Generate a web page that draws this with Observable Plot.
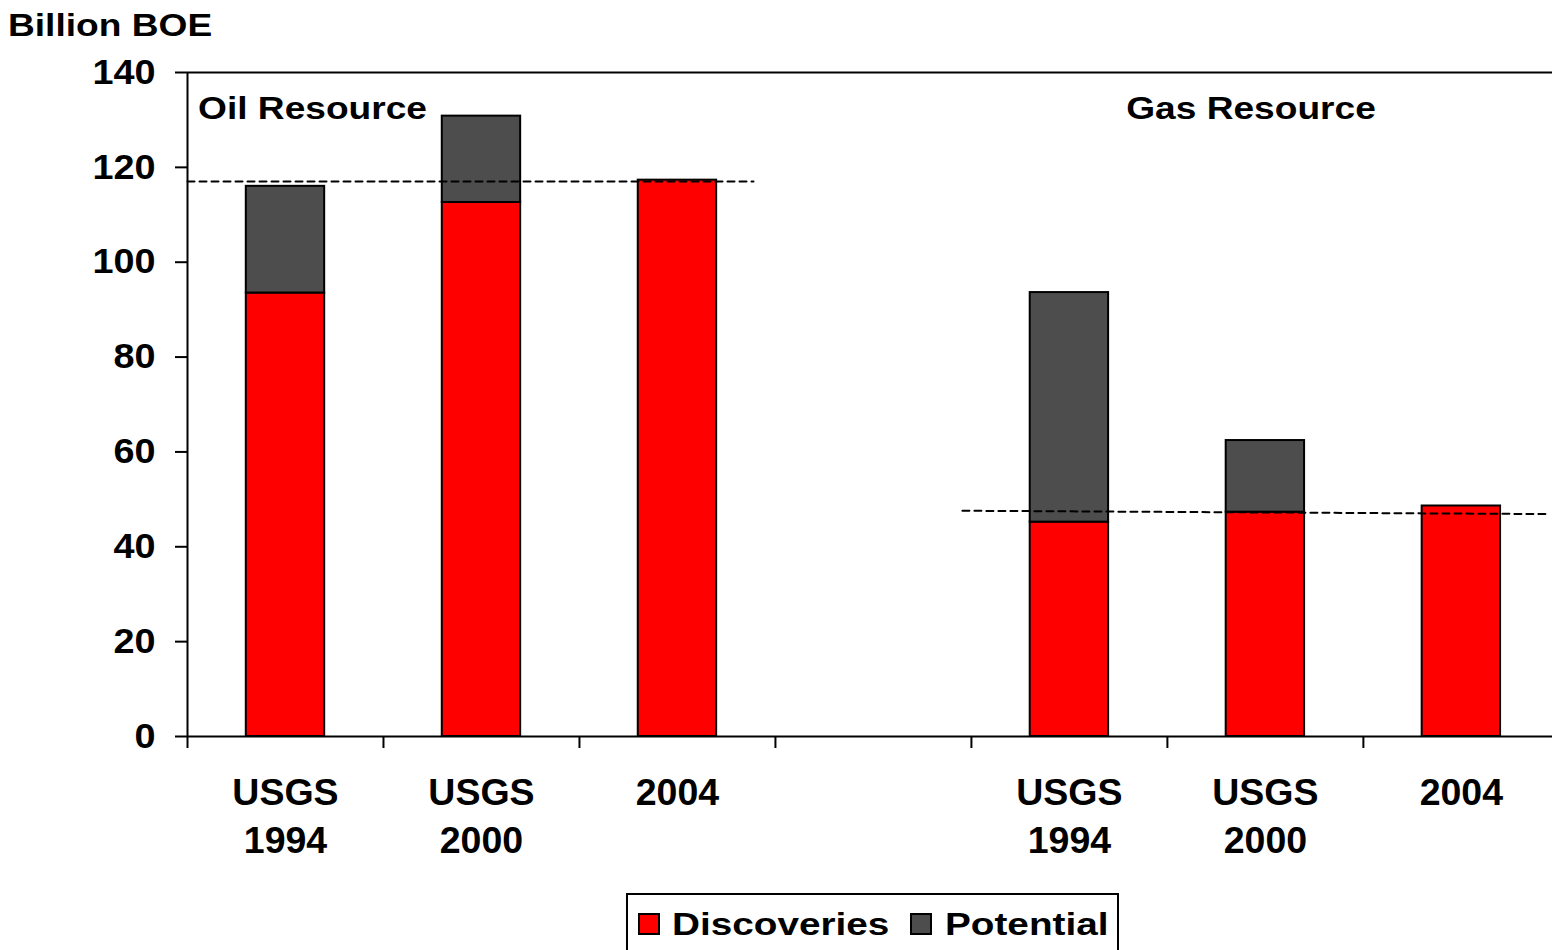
<!DOCTYPE html>
<html>
<head>
<meta charset="utf-8">
<script src="https://cdn.jsdelivr.net/npm/d3@7"></script>
<script src="https://cdn.jsdelivr.net/npm/@observablehq/plot@0.6"></script>
<style>
  html, body { margin: 0; padding: 0; background: #fff; overflow: hidden; }
  #wrap { position: relative; width: 1552px; height: 950px; font-family: "Liberation Sans", Arial, sans-serif; font-weight: bold; color: #000; }
  .lbl { position: absolute; font-size: 32px; line-height: 32px; white-space: nowrap; transform-origin: left center; }
  .sw { position: absolute; width: 18px; height: 18px; border: 2px solid #000; }
  #legendBox { position: absolute; left: 626px; top: 893px; width: 489px; height: 80px; border: 2px solid #000; }
  #chart { position: absolute; left: 0; top: 0; }
  #chart svg text { font-weight: bold; }
  #chart svg g[aria-label^="y-axis"] text { font-size: 35px; }
</style>
</head>
<body>
<div id="wrap">
  <div id="chart"></div>
  <div id="yTitle" class="lbl" style="left:8px;top:9px;transform:scaleX(1.16)"></div>
  <div id="legendBox"></div>
</div>
<script>
// ---- data ----
const yTitle = "Billion BOE";
const groups = ["Oil Resource", "Oil Resource", "Oil Resource", "Gas Resource", "Gas Resource", "Gas Resource"];
const estimates = ["USGS 1994", "USGS 2000", "2004", "USGS 1994", "USGS 2000", "2004"];
const slots = [0, 1, 2, 4, 5, 6]; // category slot index (slot 3 is the gap between groups)
const discoveries = [93.5, 112.6, 117.3, 45.2, 47.3, 48.6];
const potential = [22.5, 18.2, 0, 48.4, 15.1, 0];
const seriesNames = ["Discoveries", "Potential"];
const seriesColors = ["#ff0000", "#4d4d4d"];
const yTicks = [0, 20, 40, 60, 80, 100, 120, 140];
const xTickSlots = [0, 1, 2, 3, 4, 5, 6];
const groupLabels = ["Oil Resource", "Gas Resource"];
const groupLabelSlot = [0.054, 4.79];
// dashed reference lines (2004 discoveries level), endpoints in slot units
const refGroup = ["Oil", "Oil", "Gas", "Gas"];
const refSlot = [0, 2.888, 3.954, 6.93];
const refValue = [117.0, 117.0, 47.6, 46.9];

// ---- build tables ----
const rows = estimates.map((e, i) => ({ group: groups[i], estimate: e, slot: slots[i], disc: discoveries[i], pot: potential[i] }));
const segs = [];
rows.forEach(r => {
  segs.push({ series: seriesNames[0], x1: r.slot + 0.3, x2: r.slot + 0.7, y1: 0, y2: r.disc });
  if (r.pot > 0) segs.push({ series: seriesNames[1], x1: r.slot + 0.3, x2: r.slot + 0.7, y1: r.disc, y2: r.disc + r.pot });
});
const refRows = refGroup.map((g, i) => ({ g, x: refSlot[i], y: refValue[i] }));
const labelRows = groupLabels.map((t, i) => ({ t, x: groupLabelSlot[i] }));

const plot = Plot.plot({
  width: 1552,
  height: 880,
  marginLeft: 187,
  marginRight: 0,
  marginTop: 72,
  marginBottom: 144,
  style: { fontFamily: '"Liberation Sans", Arial, sans-serif', fontSize: "35px", fontWeight: "bold", color: "#000", background: "#fff", overflow: "visible" },
  x: { domain: [0, 6.965], ticks: xTickSlots, tickFormat: () => "", tickSize: 12, label: null },
  y: { domain: [0, 140], ticks: yTicks, tickSize: 12, tickPadding: 20, label: null },
  color: { domain: seriesNames, range: seriesColors },
  marks: [
    Plot.rectY(segs, { x1: "x1", x2: "x2", y1: "y1", y2: "y2", fill: "series", stroke: "#000", strokeWidth: 2 }),
    Plot.line(refRows, { x: "x", y: "y", z: "g", stroke: "#000", strokeWidth: 2, strokeDasharray: "7,5" }),
    Plot.ruleY([0, 140], { stroke: "#000", strokeWidth: 2 }),
    Plot.ruleX([0], { stroke: "#000", strokeWidth: 2 }),
    Plot.text(rows, { x: d => d.slot + 0.5, y: () => 0, text: d => d.estimate.replace(" ", "\n"), lineAnchor: "top", dy: 35, lineHeight: 1.267, fontSize: 37.5, fill: "#000" }),
    Plot.text(labelRows, { x: "x", y: () => 140, text: "t", textAnchor: "start", lineAnchor: "middle", dy: 36, fontSize: 32, fill: "#000" })
  ]
});
document.getElementById("chart").appendChild(plot);

// thicker axis ticks
d3.select(plot).selectAll('g[aria-label*="tick"] line, g[aria-label*="tick"] path, g.tick line').attr("stroke-width", 2).attr("stroke", "#000");

// horizontally widen text (reference glyphs are stretched), keeping each anchor fixed
const widen = size => size > 37 ? 1.0 : size > 34 ? 1.08 : 1.16;
d3.select(plot).selectAll("text").each(function () {
  if (!this.textContent.trim()) return;
  const cs = getComputedStyle(this);
  const s = widen(parseFloat(cs.fontSize));
  if (s === 1) return;
  const bb = this.getBBox();
  const anchor = cs.textAnchor;
  const ax = anchor === "end" ? bb.x + bb.width : anchor === "middle" ? bb.x + bb.width / 2 : bb.x;
  const t = this.getAttribute("transform") || "";
  this.setAttribute("transform", `${t} translate(${ax},0) scale(${s},1) translate(${-ax},0)`);
});

// title
document.getElementById("yTitle").textContent = yTitle;

// legend
const wrap = document.getElementById("wrap");
const swLeft = [638, 910], txtLeft = [672, 945];
seriesNames.forEach((name, i) => {
  const sw = document.createElement("div");
  sw.className = "sw";
  sw.style.left = swLeft[i] + "px";
  sw.style.top = "913px";
  sw.style.background = seriesColors[i];
  wrap.appendChild(sw);
  const tx = document.createElement("div");
  tx.className = "lbl";
  tx.style.left = txtLeft[i] + "px";
  tx.style.top = "908px";
  tx.style.transform = "scaleX(1.21)";
  tx.textContent = name;
  wrap.appendChild(tx);
});
</script>
</body>
</html>
